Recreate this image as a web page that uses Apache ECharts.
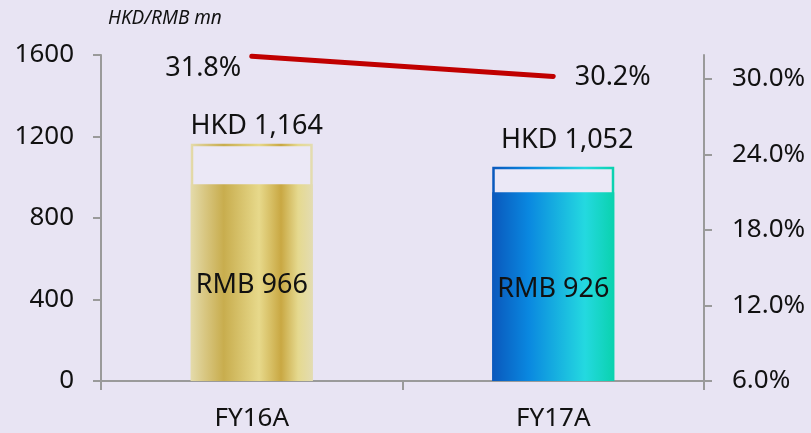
<!DOCTYPE html>
<html>
<head>
<meta charset="utf-8">
<script src="https://cdn.jsdelivr.net/npm/echarts@6/dist/echarts.min.js"></script>
<style>
  html, body { margin: 0; padding: 0; background: #e8e4f3; }
  #chart { width: 811px; height: 433px; }
</style>
</head>
<body>
<div id="chart"></div>
<script>
// Fiscal years on the category axis
const categories = ['FY16A', 'FY17A'];
// Totals in HKD mn (outlined box) and the RMB part (filled bar)
const hkdValues = [1164, 1052];
const rmbValues = [966, 926];
// Margin line, in percent, on the right axis
const marginPct = [31.8, 30.2];
// Right axis tick values
const rightTicks = [6, 12, 18, 24, 30];

const chart = echarts.init(document.getElementById('chart'), null, { renderer: 'canvas' });
const FONT = 'Noto Sans';
const TXT = '#111111';

const goldFill = () => new echarts.graphic.LinearGradient(0, 0, 1, 0, [
  { offset: 0.00, color: '#e4dbab' },
  { offset: 0.12, color: '#d8c680' },
  { offset: 0.27, color: '#c8ad4e' },
  { offset: 0.56, color: '#e7d98b' },
  { offset: 0.74, color: '#c9a843' },
  { offset: 0.88, color: '#e5d98f' },
  { offset: 1.00, color: '#e3dcb2' }
]);
const blueFill = () => new echarts.graphic.LinearGradient(0, 0, 1, 0, [
  { offset: 0.00, color: '#0a58bc' },
  { offset: 0.30, color: '#0a88e0' },
  { offset: 0.76, color: '#24d9e0' },
  { offset: 1.00, color: '#0ad2ae' }
]);
const fills = [goldFill, blueFill];

const fmt = v => v.toLocaleString('en-US');

// Per-bar label placement for the HKD totals
const hkdLabelCfg = [
  { distance: 4, offset: [5, 0] },
  { distance: 13, offset: [14, 0] }
];
// Per-point label placement for the margin line
const pctLabelCfg = [
  { position: 'left', distance: 10, offset: [0, 12] },
  { position: 'right', distance: 21, offset: [0, 1] }
];

const option = {
  animation: false,
  backgroundColor: '#e8e4f3',
  textStyle: { fontFamily: FONT },
  title: {
    text: 'HKD/RMB mn',
    left: 103,
    top: 4,
    textStyle: { fontFamily: FONT, fontSize: 19, fontStyle: 'italic', fontWeight: 'normal', color: TXT }
  },
  grid: { left: 101, right: 107, top: 55, bottom: 52, containLabel: false },
  xAxis: {
    type: 'category',
    data: categories,
    axisLine: { lineStyle: { color: '#9a9a9a', width: 2 } },
    axisTick: { show: true, length: 9, lineStyle: { color: '#9a9a9a', width: 2 } },
    axisLabel: { fontSize: 26, color: TXT, margin: 25, fontFamily: FONT }
  },
  yAxis: [
    {
      type: 'value',
      min: 0, max: 1600, interval: 400,
      axisLine: { show: true, lineStyle: { color: '#9a9a9a', width: 2 } },
      axisTick: { show: true, length: 8, lineStyle: { color: '#9a9a9a', width: 2 } },
      axisLabel: { fontSize: 26, color: TXT, margin: 27, fontFamily: FONT, formatter: v => String(v) },
      splitLine: { show: false }
    },
    {
      type: 'value',
      min: 6, max: 31.9,
      axisLine: { show: true, lineStyle: { color: '#9a9a9a', width: 2 } },
      axisTick: { show: true, length: 8, customValues: rightTicks, lineStyle: { color: '#9a9a9a', width: 2 } },
      axisLabel: {
        fontSize: 26, color: TXT, margin: 28, fontFamily: FONT,
        customValues: rightTicks,
        formatter: v => v.toFixed(1) + '%'
      },
      splitLine: { show: false }
    }
  ],
  series: [
    {
      name: 'HKD',
      type: 'bar',
      barWidth: 122,
      barGap: '-100%',
      z: 2,
      data: hkdValues.map((v, i) => ({
        value: v,
        itemStyle: { color: '#ebe8f6', borderColor: fills[i](), borderWidth: 2.5 },
        label: {
          show: true,
          position: 'top',
          distance: hkdLabelCfg[i].distance,
          offset: hkdLabelCfg[i].offset,
          formatter: p => 'HKD ' + fmt(p.value),
          fontSize: 27, color: TXT, fontFamily: FONT
        }
      }))
    },
    {
      name: 'RMB',
      type: 'bar',
      barWidth: 122,
      barGap: '-100%',
      z: 3,
      data: rmbValues.map((v, i) => ({
        value: v,
        itemStyle: { color: fills[i]() },
        label: {
          show: true,
          position: 'inside',
          offset: [0, 3],
          formatter: p => 'RMB ' + fmt(p.value),
          fontSize: 27, color: TXT, fontFamily: FONT
        }
      }))
    },
    {
      name: 'Margin',
      type: 'line',
      yAxisIndex: 1,
      z: 5,
      symbol: 'circle',
      symbolSize: 1,
      showSymbol: true,
      itemStyle: { color: '#c00000' },
      lineStyle: { color: '#c00000', width: 5, cap: 'round' },
      data: marginPct.map((v, i) => ({
        value: v,
        label: {
          show: true,
          position: pctLabelCfg[i].position,
          distance: pctLabelCfg[i].distance,
          offset: pctLabelCfg[i].offset,
          formatter: p => p.value.toFixed(1) + '%',
          fontSize: 27, color: TXT, fontFamily: FONT
        }
      }))
    }
  ]
};

chart.setOption(option);
</script>
</body>
</html>
